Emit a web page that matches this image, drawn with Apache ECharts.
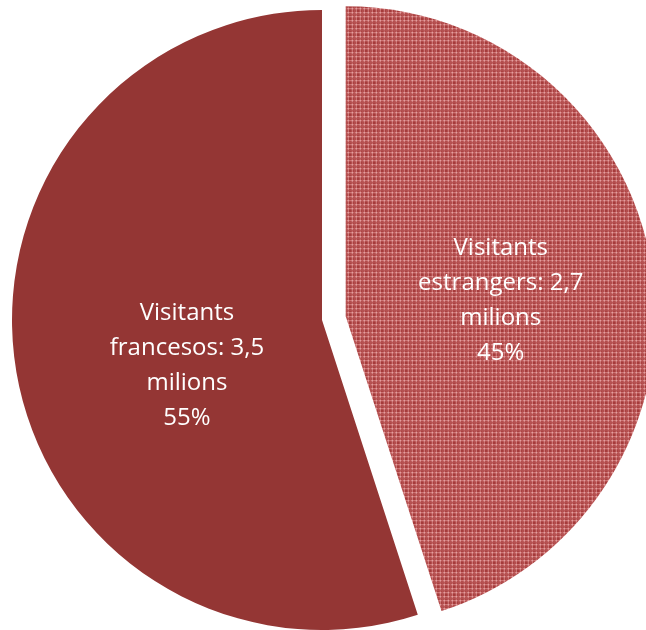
<!DOCTYPE html>
<html>
<head>
<meta charset="utf-8">
<script src="https://cdn.jsdelivr.net/npm/echarts@6/dist/echarts.min.js"></script>
<style>
html,body{margin:0;padding:0;background:#fff;}
#chart{width:646px;height:630px;}
</style>
</head>
<body>
<div id="chart"></div>
<script>
var categories = ['Visitants estrangers', 'Visitants francesos'];
var shares = [45, 55];
var millions = ['2,7', '3,5'];

function makePattern() {
  var c = document.createElement('canvas');
  c.width = 8; c.height = 8;
  var g = c.getContext('2d');
  g.fillStyle = '#a53b3b';
  g.fillRect(0, 0, 8, 8);
  g.fillStyle = '#d98585';
  g.fillRect(0, 0, 8, 1);
  g.fillRect(0, 4, 8, 1);
  g.fillRect(0, 0, 1, 8);
  g.fillRect(4, 0, 1, 8);
  g.fillStyle = '#b85454';
  g.fillRect(0, 2, 8, 1);
  g.fillRect(2, 0, 1, 8);
  g.fillStyle = '#f0bcbc';
  g.fillRect(0, 0, 1, 1);
  g.fillRect(4, 4, 1, 1);
  g.fillRect(0, 4, 1, 1);
  g.fillRect(4, 0, 1, 1);
  return c;
}

var chart = echarts.init(document.getElementById('chart'));
var labelOffsets = [[-1, 9], [21, 21]];
var data = categories.map(function (name, i) {
  return {
    name: name,
    value: shares[i],
    selected: i === 0,
    itemStyle: i === 0
      ? { color: { image: makePattern(), repeat: 'repeat' } }
      : { color: '#943634' },
    label: { offset: labelOffsets[i] },
    select: { label: { offset: labelOffsets[i] } }
  };
});

chart.setOption({
  animation: false,
  series: [{
    type: 'pie',
    center: [322, 320],
    radius: 310,
    startAngle: 90,
    clockwise: true,
    selectedMode: 'single',
    selectedOffset: 24,
    avoidLabelOverlap: false,
    data: data,
    label: {
      show: true,
      position: 'inside',
      color: '#ffffff',
      fontFamily: 'Open Sans',
      fontSize: 24,
      lineHeight: 35,
      align: 'center',
      formatter: function (p) {
        var parts = p.name.split(' ');
        return parts[0] + '\n' + parts[1] + ': ' + millions[p.dataIndex] + '\nmilions\n' + shares[p.dataIndex] + '%';
      }
    },
    labelLine: { show: false },
    emphasis: { disabled: true },
    itemStyle: { borderWidth: 0 }
  }]
});
</script>
</body>
</html>
